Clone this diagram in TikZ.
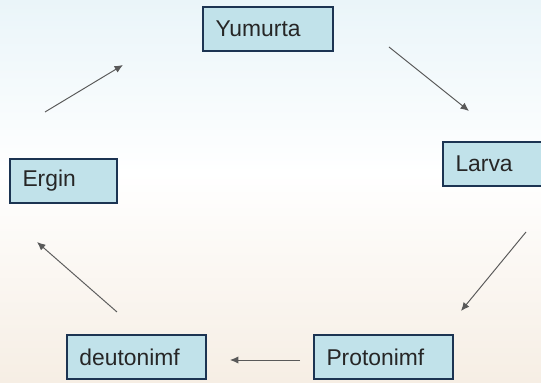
\documentclass[tikz,border=0pt]{standalone}
\usepackage{fontspec}
\setmainfont{Liberation Sans}
\usetikzlibrary{arrows.meta}
\definecolor{kutumavi}{RGB}{193,226,234}
\definecolor{kenar}{RGB}{28,52,82}
\definecolor{ustrenk}{RGB}{234,245,249}
\definecolor{altrenk}{RGB}{246,238,228}
\tikzset{
	kutu/.style={draw=kenar, fill=kutumavi, line width=1.6pt, minimum height=0.88cm,
		inner xsep=0.25cm, text width=#1, align=left, text=black!85, font=\fontsize{13}{15}\selectfont},
	ok/.style={->, draw=black!65, line width=0.55pt}
}
\begin{document}
\begin{tikzpicture}[>={Latex[length=4.8pt,width=4.2pt]}]
	% Arka plan
	\clip (0,0) rectangle (10.82,7.66);
	\useasboundingbox (0,0) rectangle (10.82,7.66);
	\shade[top color=ustrenk, bottom color=white] (0,4.2) rectangle (10.82,7.66);
	\shade[top color=white, bottom color=altrenk] (0,0) rectangle (10.82,4.21);
	
	% Evreler
	\node[kutu=2.1cm] (yumurta) at (5.36, 7.08) {Yumurta};
	\node[kutu=1.84cm] (larva) at (10.03, 4.38) {Larva};
	\node[kutu=2.28cm] (protonimf) at (7.67, 0.52) {Protonimf};
	\node[kutu=2.28cm] (deutonimf) at (2.73, 0.52) {deutonimf};
	\node[kutu=1.64cm] (ergin) at (1.27, 4.04) {Ergin};
	
	% Okların uçları
	\coordinate (e1) at (0.90, 5.42);  \coordinate (e2) at (2.46, 6.36);
	\coordinate (y1) at (7.78, 6.72);  \coordinate (y2) at (9.38, 5.44);
	\coordinate (l1) at (10.52, 3.02); \coordinate (l2) at (9.22, 1.44);
	\coordinate (p1) at (6.00, 0.46);  \coordinate (p2) at (4.60, 0.46);
	\coordinate (d1) at (2.34, 1.42);  \coordinate (d2) at (0.74, 2.82);
	
	\foreach \a/\b in {e1/e2, y1/y2, l1/l2, p1/p2, d1/d2}
		\draw[ok] (\a) -- (\b);
\end{tikzpicture}
\end{document}
